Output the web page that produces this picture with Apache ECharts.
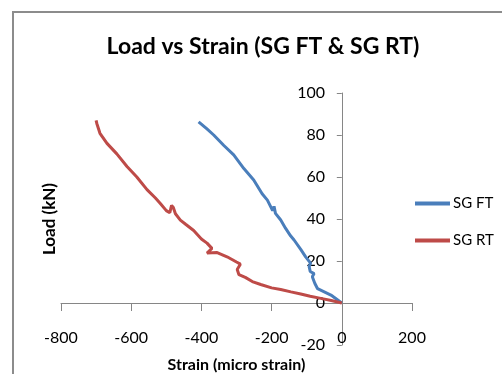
<!DOCTYPE html>
<html>
<head>
<meta charset="utf-8">
<script src="https://cdn.jsdelivr.net/npm/echarts@6/dist/echarts.min.js"></script>
<style>
  html, body {margin: 0; padding: 0; background: #fff;}
  #main {width: 502px; height: 374px;}
</style>
</head>
<body>
<div id="main"></div>
<script>
// strain (micro strain), load (kN)
const sgFT = [
  [0, 0], [-31, 3.8], [-50, 5.3], [-69, 6.8], [-77, 9.4], [-84, 12.5], [-79, 14],
  [-90, 15], [-93, 17.3], [-89, 19], [-103, 22], [-117, 25.5], [-136, 30], [-146, 32],
  [-160, 35.5], [-174, 39.5], [-189, 42.7], [-193, 46], [-197, 44], [-212, 49],
  [-227, 52], [-251, 58.6], [-279, 64], [-308, 70.5], [-336, 75], [-365, 80],
  [-385, 83], [-408, 86.3]
];
const sgRT = [
  [0, 0], [-30, 1.2], [-60, 2.2], [-90, 3.2], [-117, 4.3], [-145, 5.3], [-174, 6.4],
  [-200, 7.2], [-231, 8.8], [-255, 10.2], [-275, 12.2], [-293, 13.5], [-298, 16],
  [-289, 18.5], [-300, 19.5], [-327, 22], [-355, 24], [-384, 23.8], [-370, 26],
  [-384, 28.5], [-400, 30.5], [-422, 34.5], [-445, 37.5], [-460, 39.5], [-474, 42.5],
  [-480, 45.5], [-485, 46.5], [-490, 43], [-500, 44], [-517, 47.4], [-531, 50],
  [-555, 54], [-584, 60], [-612, 65], [-641, 71], [-669, 76], [-689, 80.8],
  [-698, 85.5], [-700, 87]
];
const seriesNames = ['SG FT', 'SG RT'];
const xTicks = {min: -800, max: 200, interval: 200};
const yTicks = {min: -20, max: 100, interval: 20};

const font = 'Lato, "Liberation Sans", sans-serif';
const axisGray = '#868686';

let chartDom = document.getElementById('main');
let myChart = echarts.init(chartDom);
let option = {
  animation: false,
  color: ['#4A7EBB', '#BE4B48'],
  textStyle: {fontFamily: font},
  graphic: [
    {
      type: 'rect',
      shape: {x: 13, y: 12, width: 700, height: 500},
      style: {fill: 'none', stroke: '#8c8c8c', lineWidth: 2},
      silent: true,
    },
  ],
  title: {
    text: 'Load vs Strain (SG FT & SG RT)',
    left: 263,
    textAlign: 'center',
    top: 35,
    padding: 0,
    textStyle: {fontFamily: font, fontSize: 23, fontWeight: 'bold', color: '#000'},
  },
  legend: {
    orient: 'vertical',
    left: 415,
    top: 196,
    padding: 0,
    itemWidth: 35,
    itemHeight: 4,
    itemGap: 22,
    icon: 'rect',
    data: seriesNames,
    textStyle: {fontFamily: font, fontSize: 15, color: '#000', padding: [0, 0, 0, -2]},
  },
  grid: {left: 61, right: 90, top: 93, bottom: 29, containLabel: false, outerBoundsMode: 'none'},
  xAxis: {
    type: 'value',
    min: xTicks.min,
    max: xTicks.max,
    interval: xTicks.interval,
    name: 'Strain (micro strain)',
    nameLocation: 'middle',
    nameGap: 12,
    nameTextStyle: {fontFamily: font, fontSize: 16, fontWeight: 'bold', color: '#000'},
    axisLine: {onZero: true, lineStyle: {color: axisGray, width: 1}},
    axisTick: {show: true, length: 8, lineStyle: {color: axisGray}},
    axisLabel: {margin: -15, fontFamily: font, fontSize: 16, color: '#000', showMinLabel: true, showMaxLabel: true},
    splitLine: {show: false},
  },
  yAxis: {
    type: 'value',
    min: yTicks.min,
    max: yTicks.max,
    interval: yTicks.interval,
    name: 'Load (kN)',
    nameLocation: 'middle',
    nameGap: 3,
    nameTextStyle: {fontFamily: font, fontSize: 17, fontWeight: 'bold', color: '#000'},
    axisLine: {show: true, onZero: true, lineStyle: {color: axisGray, width: 1}},
    axisTick: {show: true, length: 5, lineStyle: {color: axisGray}},
    axisLabel: {margin: -264, fontFamily: font, fontSize: 16, color: '#000'},
    splitLine: {show: false},
  },
  series: [
    {
      name: seriesNames[0],
      type: 'line',
      data: sgFT,
      showSymbol: false,
      lineStyle: {width: 3},
    },
    {
      name: seriesNames[1],
      type: 'line',
      data: sgRT,
      showSymbol: false,
      lineStyle: {width: 3},
    },
  ],
};
option && myChart.setOption(option);
</script>
</body>
</html>
